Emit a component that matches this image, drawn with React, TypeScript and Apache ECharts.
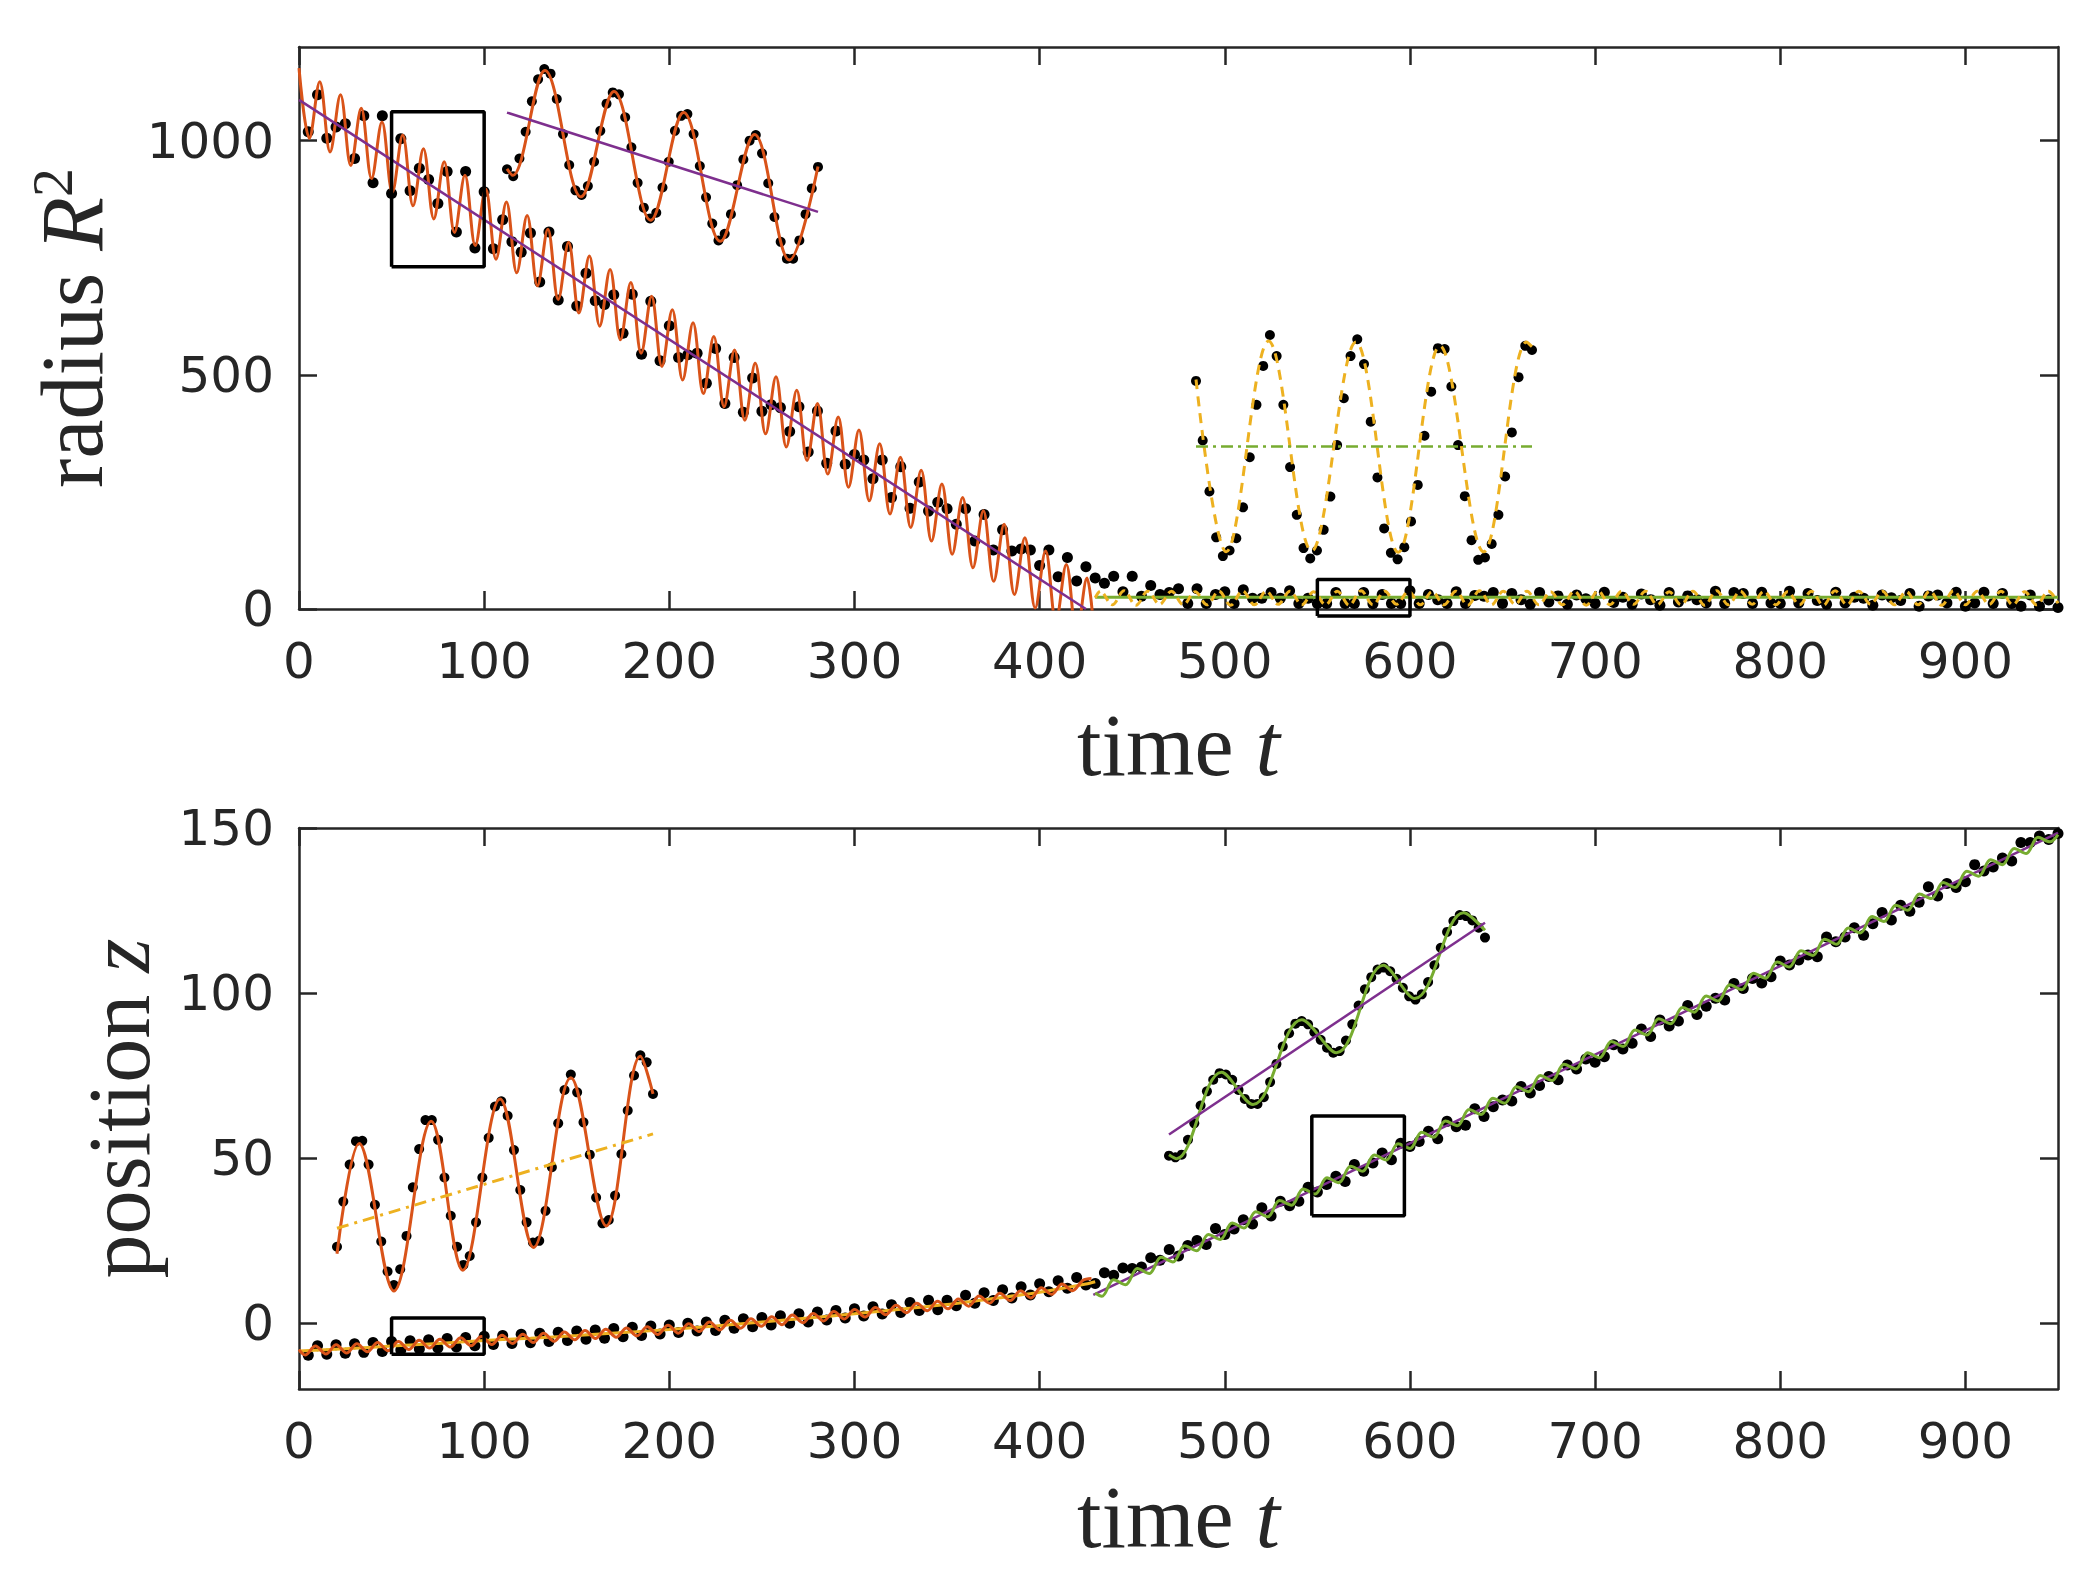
import React, { useEffect, useRef } from "react";
import * as echarts from "echarts";

const W = 2094;
const H = 1570;

// ---------- colours ----------
const ORANGE = "#D95319";
const PURPLE = "#7E2F8E";
const YELLOW = "#EDB120";
const GREEN = "#77AC30";
const AXIS = "#262626";

// ---------- ticks ----------
const timeTicks = [0, 100, 200, 300, 400, 500, 600, 700, 800, 900];
const radiusTicks = [0, 500, 1000];
const positionTicks = [0, 50, 100, 150];

// ---------- top panel: radius R^2 (samples every 5 time units, t = 5..950) ----------
const dotStep = 5;
const radiusDots = [
  1019, 1098, 1005, 1029, 1036, 962, 1053, 910, 1053, 887,
  1004, 893, 941, 917, 866, 934, 805, 934, 771, 891,
  769, 831, 784, 762, 803, 698, 805, 660, 774, 647,
  717, 658, 650, 671, 589, 672, 544, 657, 530, 605,
  537, 543, 546, 482, 556, 439, 537, 420, 493, 422,
  436, 430, 379, 432, 335, 423, 311, 380, 309, 330,
  318, 278, 318, 238, 304, 215, 271, 209, 228, 214,
  181, 214, 145, 202, 126, 169, 124, 128, 126, 93,
  126, 69, 110, 60, 90, 66, 55, 70, 37, 70,
  27, 50, 31, 35, 43, 12, 43, 12, 31, 37,
  12, 41, 23, 23, 35, 23, 39, 12, 23, 12,
  12, 35, 12, 12, 35, 11, 31, 12, 12, 39,
  12, 31, 20, 12, 37, 12, 29, 27, 35, 12,
  33, 20, 10, 35, 15, 28, 10, 30, 22, 12,
  36, 14, 25, 10, 32, 20, 8, 35, 15, 28,
  20, 13, 38, 12, 35, 33, 12, 36, 13, 12,
  38, 13, 33, 18, 10, 36, 13, 25, 23, 8,
  30, 24, 18, 33, 6, 28, 30, 13, 36, 6,
  13, 36, 12, 33, 12, 6, 30, 6, 19, 3,
];

// linear trend (purple) of the shrinking phase
const radiusTrend = [[0, 1087], [425, 0]];

// oscillating fit (orange), extrema
const radiusFitA = [
  [0, 1155], [5.6, 1005], [11.2, 1126], [16.8, 976], [22.4, 1098], [28, 947], [33.6, 1069], [39.2, 919],
  [44.8, 1040], [50.4, 890], [56, 1012], [61.6, 861], [67.2, 983], [72.8, 833], [78.4, 955], [84, 804],
  [89.6, 926], [95.2, 776], [100.8, 897], [106.4, 747], [112, 869], [117.6, 718], [123.2, 840], [128.8, 690],
  [134.4, 811], [140, 661], [145.6, 783], [151.2, 632], [156.8, 754], [162.4, 604], [168, 725], [173.6, 575],
  [179.2, 697], [184.8, 546], [190.4, 668], [196, 518], [201.6, 639], [207.2, 489], [212.8, 611], [218.4, 460],
  [224, 582], [229.6, 432], [235.2, 553], [240.8, 403], [246.4, 525], [252, 374], [257.6, 496], [263.2, 346],
  [268.8, 467], [274.4, 317], [280, 439], [285.6, 288], [291.2, 410], [296.8, 260], [302.4, 382], [308, 231],
  [313.6, 353], [319.2, 203], [324.8, 324], [330.4, 174], [336, 296], [341.6, 145], [347.2, 267], [352.8, 117],
  [358.4, 238], [364, 88], [369.6, 210], [375.2, 59], [380.8, 181], [386.4, 31], [392, 152], [397.6, 2],
  [403.2, 124], [408.8, -27], [414.4, 95], [420, -55], [425.6, 66], [428.5, -9],
];

// plateau phase: mean (green) and oscillating fit (yellow, dashed)
const radiusMeanB = [[430, 25], [950, 25]];
const radiusFitB = [
  [430, 24], [432.8, 38], [439.2, 9], [445.6, 39], [452, 8], [458.4, 38], [464.8, 10], [471.2, 38],
  [477.6, 9], [484, 37], [490.4, 9], [496.8, 38], [503.2, 8], [509.6, 39], [516, 9], [522.4, 38],
  [528.8, 10], [535.2, 38], [541.6, 9], [548, 37], [554.4, 9], [560.8, 38], [567.2, 8], [573.6, 39],
  [580, 9], [586.4, 38], [592.8, 10], [599.2, 38], [605.6, 9], [612, 37], [618.4, 9], [624.8, 38],
  [631.2, 8], [637.6, 39], [644, 9], [650.4, 38], [656.8, 10], [663.2, 38], [669.6, 9], [676, 37],
  [682.4, 9], [688.8, 38], [695.2, 8], [701.6, 39], [708, 9], [714.4, 38], [720.8, 10], [727.2, 38],
  [733.6, 9], [740, 37], [746.4, 9], [752.8, 38], [759.2, 8], [765.6, 39], [772, 9], [778.4, 38],
  [784.8, 10], [791.2, 38], [797.6, 9], [804, 37], [810.4, 9], [816.8, 38], [823.2, 8], [829.6, 39],
  [836, 9], [842.4, 38], [848.8, 10], [855.2, 38], [861.6, 9], [868, 37], [874.4, 9], [880.8, 38],
  [887.2, 8], [893.6, 39], [900, 9], [906.4, 38], [912.8, 10], [919.2, 38], [925.6, 9], [932, 37],
  [938.4, 9], [944.8, 38], [950, 12],
];

// zoom windows [t0, t1, v0, v1]
const radiusBoxA = [50, 100, 731, 1062];
const radiusBoxB = [550, 600, -15, 63];

// inset A (t = 50..100, every time unit)
const insetRadiusA = [
  939, 924, 962, 1019, 1084, 1131, 1153, 1143, 1089, 1014,
  948, 894, 884, 903, 955, 1021, 1079, 1103, 1099, 1050,
  986, 910, 857, 834, 846, 900, 955, 1021, 1053, 1057,
  1014, 946, 879, 823, 787, 801, 843, 905, 960, 1000,
  1012, 973, 909, 837, 784, 748, 748, 787, 843, 898, 944,
];
const insetRadiusAFit = [
  [50, 940], [50.9, 926], [56.1, 1150], [61.9, 880], [67.2, 1105], [73.1, 830], [78.4, 1060],
  [84.3, 785], [89.8, 1013], [95.4, 745], [100, 945],
];
const insetRadiusATrend = [[50, 1060], [100, 848]];

// inset B (t = 550..600)
const insetRadiusB = [
  487, 360, 251, 153, 113, 125, 151, 217, 324, 436,
  519, 585, 540, 436, 303, 201, 130, 108, 125, 169,
  240, 350, 450, 540, 576, 523, 400, 281, 172, 120,
  106, 132, 187, 265, 370, 464, 557, 555, 475, 350,
  241, 147, 105, 110, 139, 201, 283, 377, 495, 562, 553,
];
const insetRadiusBFit = [
  [550, 490], [554.5, 122], [560.8, 572], [567.2, 124], [573.8, 570], [580.1, 121],
  [586.3, 562], [592.8, 122], [599.2, 570], [600, 560],
];
const insetRadiusBMean = [[550, 347], [600, 347]];

// ---------- bottom panel: position z (t = 5..950) ----------
const positionDots = [
  -9.8, -6.9, -9.5, -6.6, -9.2, -6.3, -8.9, -5.9, -8.6, -5.6,
  -8.2, -5.4, -7.9, -5.1, -7.6, -4.7, -7.3, -4.4, -6.9, -4.0,
  -6.5, -3.8, -6.2, -3.4, -6.0, -3.1, -5.6, -2.8, -5.3, -2.4,
  -4.9, -2.1, -4.6, -1.7, -4.2, -1.3, -3.8, -0.9, -3.3, -0.6,
  -2.9, -0.1, -2.4, 0.3, -2.3, 0.8, -1.6, 1.3, -1.1, 1.7,
  -0.6, 2.2, -0.1, 2.8, 0.3, 3.3, 0.9, 3.8, 1.5, 4.3,
  2.1, 4.9, 2.7, 5.5, 3.2, 6.2, 3.8, 6.9, 4.0, 6.9,
  5.2, 8.4, 6.0, 9.2, 6.8, 10.1, 7.6, 11.0, 8.5, 11.9,
  9.5, 12.8, 10.5, 13.8, 11.5,
  12.0, 15.2, 14.5, 16.7, 16.5, 17.0, 19.8, 19.0, 22.3, 20.3,
  23.5, 25.0, 23.8, 28.6, 26.8, 28.5, 31.3, 30.0, 34.9, 32.4,
  36.9, 35.5, 36.9, 41.1, 39.7, 42.0, 44.5, 42.9, 48.0, 46.0,
  48.5, 51.5, 49.5, 54.5, 53.5, 55.0, 58.1, 55.8, 61.1, 59.5,
  59.9, 64.9, 62.6, 65.5, 67.6, 67.3, 71.7, 69.7, 72.0, 74.7,
  73.7, 78.2, 77.0, 80.0, 79.0, 80.7, 84.3, 83.0, 84.8, 89.1,
  86.8, 91.8, 90.0, 91.5, 96.2, 93.5, 96.0, 98.4, 97.9, 102.9,
  101.4, 104.4, 103.0, 104.9, 109.7, 108.5, 110.0, 111.5, 111.0, 117.0,
  115.5, 117.0, 119.8, 117.5, 121.0, 124.4, 122.1, 126.6, 124.8, 127.5,
  132.2, 129.4, 133.2, 132.0, 133.7, 138.9, 137.0, 138.2, 140.9, 140.0,
  145.6, 145.6, 147.6, 146.5, 148.3,
];

// slow phase: mean drift (yellow) and oscillating fit (orange)
const positionMeanA = [
  [0, -8.5], [25, -7.8], [50, -7.0], [75, -6.2], [100, -5.3], [125, -4.6], [150, -3.8], [175, -2.9],
  [200, -2.0], [225, -0.9], [250, 0.3], [275, 1.5], [300, 2.8], [325, 4.2], [350, 5.6], [375, 7.4],
  [400, 9.3], [425, 11.8], [430, 12.5],
];
const positionFitA = [
  [0, -8.1], [3.3, -9.7], [8.9, -7.0], [14.5, -9.4], [20.1, -6.6], [25.7, -9.1], [31.3, -6.3], [36.9, -8.7],
  [42.5, -5.9], [48.1, -8.4], [53.7, -5.6], [59.3, -8.0], [64.9, -5.2], [70.5, -7.6], [76.1, -4.9], [81.7, -7.3],
  [87.3, -4.5], [92.9, -6.9], [98.5, -4.1], [104.1, -6.5], [109.7, -3.7], [115.3, -6.2], [120.9, -3.4], [126.5, -5.9],
  [132.1, -3.1], [137.7, -5.5], [143.3, -2.7], [148.9, -5.1], [154.5, -2.3], [160.1, -4.7], [165.7, -1.9], [171.3, -4.3],
  [176.9, -1.5], [182.5, -3.9], [188.1, -1.1], [193.7, -3.5], [199.3, -0.7], [204.9, -3.1], [210.5, -0.2], [216.1, -2.6],
  [221.7, 0.3], [227.3, -2.1], [232.9, 0.8], [238.5, -1.6], [244.1, 1.3], [249.7, -1.0], [255.3, 1.9], [260.9, -0.5],
  [266.5, 2.4], [272.1, 0.1], [277.7, 2.9], [283.3, 0.6], [288.9, 3.5], [294.5, 1.2], [300.1, 4.1], [305.7, 1.8],
  [311.3, 4.7], [316.9, 2.5], [322.5, 5.4], [328.1, 3.1], [333.7, 6.0], [339.3, 3.7], [344.9, 6.6], [350.5, 4.3],
  [356.1, 7.3], [361.7, 5.1], [367.3, 8.2], [372.9, 6.0], [378.5, 9.0], [384.1, 6.8], [389.7, 9.8], [395.3, 7.6],
  [400.9, 10.7], [406.5, 8.7], [412.1, 11.8], [417.7, 9.8], [423.3, 12.9], [428, 13.5],
];

// fast phase: linear trend (purple) and oscillating fit (green)
const positionTrendB = [[429, 8.5], [950, 148.5]];
const positionFitB = [
  [430, 9.1], [433.6, 8.1], [440, 13.1], [446.4, 11.6], [452.8, 16.5], [459.2, 15.0], [465.6, 19.9], [472, 18.5],
  [478.4, 23.4], [484.8, 21.9], [491.2, 26.8], [497.6, 25.3], [504, 30.3], [510.4, 28.8], [516.8, 33.7], [523.2, 32.2],
  [529.6, 37.1], [536, 35.7], [542.4, 40.6], [548.8, 39.1], [555.2, 44.0], [561.6, 42.5], [568, 47.5], [574.4, 46.0],
  [580.8, 50.9], [587.2, 49.4], [593.6, 54.3], [600, 52.9], [606.4, 57.8], [612.8, 56.3], [619.2, 61.2], [625.6, 59.8],
  [632, 64.7], [638.4, 63.2], [644.8, 68.1], [651.2, 66.6], [657.6, 71.6], [664, 70.1], [670.4, 75.0], [676.8, 73.5],
  [683.2, 78.4], [689.6, 77.0], [696, 81.9], [702.4, 80.4], [708.8, 85.3], [715.2, 83.8], [721.6, 88.8], [728, 87.3],
  [734.4, 92.2], [740.8, 90.7], [747.2, 95.6], [753.6, 94.2], [760, 99.1], [766.4, 97.6], [772.8, 102.5], [779.2, 101.0],
  [785.6, 106.0], [792, 104.5], [798.4, 109.4], [804.8, 107.9], [811.2, 112.8], [817.6, 111.4], [824, 116.3], [830.4, 114.8],
  [836.8, 119.7], [843.2, 118.2], [849.6, 123.2], [856, 121.7], [862.4, 126.6], [868.8, 125.1], [875.2, 130.0], [881.6, 128.6],
  [888, 133.5], [894.4, 132.0], [900.8, 136.9], [907.2, 135.4], [913.6, 140.4], [920, 138.9], [926.4, 143.8], [932.8, 142.3],
  [939.2, 147.2], [945.6, 145.8], [950, 148.0],
];

const positionBoxA = [50, 100, -9.5, 1.5];
const positionBoxB = [547, 597, 32.5, 62.7];

// inset A (t = 50..100)
const insetPositionA = [
  23.1, 36.8, 48.0, 55.1, 55.2, 48.0, 35.8, 24.7, 15.6, 11.5,
  16.3, 26.4, 41.1, 52.7, 61.5, 61.5, 55.5, 44.1, 32.5, 23.1,
  17.6, 20.3, 30.5, 44.1, 56.1, 65.6, 67.2, 62.8, 52.4, 40.3,
  30.5, 24.4, 24.9, 34.0, 47.2, 60.5, 70.6, 75.3, 69.9, 60.8,
  51.0, 38.0, 30.2, 31.2, 38.6, 51.2, 64.4, 75.0, 81.1, 79.0, 69.4,
];
const insetPositionAFit = [
  [50, 21.0], [53.5, 54.4], [59.0, 9.7], [64.9, 61.1], [69.9, 16.0], [75.8, 67.9],
  [81.1, 22.9], [87.0, 74.3], [92.6, 29.4], [98.0, 80.8], [100, 69.4],
];
const insetPositionAMean = [[50, 28.7], [100, 57.3]];

// inset B (t = 547..597)
const insetPositionB = [
  50.7, 50.2, 51.0, 55.5, 60.5, 65.9, 70.2, 73.7, 75.7, 75.3,
  73.7, 70.6, 67.9, 66.4, 66.4, 68.4, 73.0, 78.5, 83.8, 87.8,
  90.7, 91.5, 90.5, 88.1, 85.8, 83.4, 81.9, 82.4, 85.6, 90.5,
  96.2, 101.1, 104.8, 107.1, 107.7, 106.6, 104.3, 101.6, 99.0, 98.0,
  99.6, 103.3, 108.4, 113.7, 118.5, 121.8, 123.6, 123.3, 122.0, 119.8, 116.8,
];
const insetPositionBFit = [
  [547, 51.0], [548.2, 49.8], [555.3, 76.0], [560.3, 66.2], [568.0, 91.9], [573.5, 81.9],
  [580.9, 108.4], [585.9, 98.3], [593.6, 124.3], [597, 119.0],
];
const insetPositionBTrend = [[547, 57.1], [597, 121.3]];

// ---------- layout ----------
const PLOT_LEFT = 299;
const PLOT_W = 1759;
const TOP_Y = 47;
const TOP_H = 562;
const BOT_Y = 828;
const BOT_H = 561;

const serif = "Liberation Serif";
const sans = "DejaVu Sans";

function boxPath(b: number[]) {
  const [t0, t1, v0, v1] = b;
  return [[t0, v0], [t1, v0], [t1, v1], [t0, v1], [t0, v0]];
}

function dotsFrom(values: number[], t0: number, dt: number) {
  return values.map((v, i) => [t0 + i * dt, v]);
}

function buildOption() {
  const axisLine = { show: true, onZero: false, lineStyle: { color: AXIS, width: 2.5 } };
  const tick = (vals: number[]) => ({
    show: true,
    inside: true,
    length: 18,
    lineStyle: { color: AXIS, width: 2.5 },
    customValues: vals,
  });
  const label = (vals: number[], margin: number) => ({
    show: true,
    fontFamily: sans,
    fontSize: 50,
    color: AXIS,
    margin,
    customValues: vals,
    formatter: (v: number) => String(v),
  });
  const nameRich = {
    a: { fontFamily: serif, fontSize: 88, color: AXIS },
    b: { fontFamily: serif, fontSize: 88, color: AXIS, fontStyle: "italic" },
    s: { fontFamily: serif, fontSize: 58, color: AXIS, padding: [0, 0, 40, 0] },
  };

  const timeAxis = (grid: number, gap: number) => ({
    type: "value",
    gridIndex: grid,
    min: 0,
    max: 950,
    position: "bottom",
    axisLine,
    axisTick: tick(timeTicks),
    axisLabel: label(timeTicks, 27),
    splitLine: { show: false },
    name: "{a|time }{b|t}",
    nameLocation: "middle",
    nameGap: gap,
    nameTextStyle: { rich: nameRich },
  });
  const timeAxisTop = (grid: number) => ({
    type: "value",
    gridIndex: grid,
    min: 0,
    max: 950,
    position: "top",
    axisLine,
    axisTick: tick(timeTicks),
    axisLabel: { show: false },
    splitLine: { show: false },
  });
  const hiddenX = (grid: number, min: number, max: number) => ({
    type: "value", gridIndex: grid, min, max, show: false,
  });
  const hiddenY = (grid: number, min: number, max: number) => ({
    type: "value", gridIndex: grid, min, max, show: false,
  });

  const xAxis = [
    timeAxis(0, 92),
    timeAxisTop(0),
    timeAxis(1, 84),
    timeAxisTop(1),
    hiddenX(2, 50, 100),
    hiddenX(3, 550, 600),
    hiddenX(4, 50, 100),
    hiddenX(5, 547, 597),
  ];
  const yAxis = [
    {
      type: "value", gridIndex: 0, min: 0, max: 1200, position: "left",
      axisLine, axisTick: tick(radiusTicks), axisLabel: label(radiusTicks, 25),
      splitLine: { show: false },
      name: "{a|radius }{b|R}{s|2}", nameLocation: "middle", nameRotate: 90, nameGap: 178,
      nameTextStyle: { rich: nameRich },
    },
    {
      type: "value", gridIndex: 0, min: 0, max: 1200, position: "right",
      axisLine, axisTick: tick(radiusTicks), axisLabel: { show: false }, splitLine: { show: false },
    },
    {
      type: "value", gridIndex: 1, min: -20, max: 150, position: "left",
      axisLine, axisTick: tick(positionTicks), axisLabel: label(positionTicks, 25),
      splitLine: { show: false },
      name: "{a|position }{b|z}", nameLocation: "middle", nameRotate: 90, nameGap: 136,
      nameTextStyle: { rich: nameRich },
    },
    {
      type: "value", gridIndex: 1, min: -20, max: 150, position: "right",
      axisLine, axisTick: tick(positionTicks), axisLabel: { show: false }, splitLine: { show: false },
    },
    hiddenY(2, 0, 1200),
    hiddenY(3, 0, 1200),
    hiddenY(4, -20, 150),
    hiddenY(5, -20, 150),
  ];

  const grid = [
    { left: PLOT_LEFT, top: TOP_Y, width: PLOT_W, height: TOP_H },
    { left: PLOT_LEFT, top: BOT_Y, width: PLOT_W, height: BOT_H },
    { left: 507, top: TOP_Y, width: 311, height: TOP_H },
    { left: 1196, top: TOP_Y, width: 336, height: TOP_H },
    { left: 337, top: BOT_Y, width: 316, height: BOT_H },
    { left: 1169, top: BOT_Y, width: 316, height: BOT_H },
  ];

  const dots = (data: number[][], xi: number, yi: number, size: number) => ({
    type: "scatter", data, xAxisIndex: xi, yAxisIndex: yi,
    symbol: "circle", symbolSize: size, itemStyle: { color: "#000", opacity: 1 },
    clip: false, silent: true, z: 2,
  });
  const curve = (data: number[][], xi: number, yi: number, color: string, width: number, extra: any = {}) => ({
    type: "line", data, xAxisIndex: xi, yAxisIndex: yi, symbol: "none", showSymbol: false, silent: true,
    lineStyle: { color, width, ...(extra.lineStyle || {}) }, z: 3,
    ...(extra.smooth !== undefined ? { smooth: extra.smooth } : {}),
    ...(extra.clip !== undefined ? { clip: extra.clip } : {}),
  });
  const box = (b: number[], xi: number, yi: number) => ({
    type: "line", data: boxPath(b), xAxisIndex: xi, yAxisIndex: yi, symbol: "none", showSymbol: false,
    silent: true, clip: false, lineStyle: { color: "#000", width: 3.5 }, z: 6,
  });

  const SM = 0.36;

  const series: any[] = [
    // top main
    dots(dotsFrom(radiusDots, dotStep, dotStep), 0, 0, 11),
    curve(radiusFitA, 0, 0, ORANGE, 3, { smooth: SM }),
    curve(radiusTrend, 0, 0, PURPLE, 2.5),
    curve(radiusMeanB, 0, 0, GREEN, 3),
    curve(radiusFitB, 0, 0, YELLOW, 3, { smooth: SM, lineStyle: { type: [8, 5] } }),
    box(radiusBoxA, 0, 0),
    box(radiusBoxB, 0, 0),
    // top inset A
    dots(dotsFrom(insetRadiusA, 50, 1), 4, 4, 10),
    curve(insetRadiusAFit, 4, 4, ORANGE, 3, { smooth: SM }),
    curve(insetRadiusATrend, 4, 4, PURPLE, 2.5),
    // top inset B
    dots(dotsFrom(insetRadiusB, 550, 1), 5, 5, 10),
    curve(insetRadiusBFit, 5, 5, YELLOW, 3, { smooth: SM, lineStyle: { type: [10, 7] } }),
    curve(insetRadiusBMean, 5, 5, GREEN, 2.5, { lineStyle: { type: [12, 5, 3, 5] } }),
    // bottom main
    dots(dotsFrom(positionDots, dotStep, dotStep), 2, 2, 11),
    curve(positionMeanA, 2, 2, YELLOW, 3, { smooth: 0.3 }),
    curve(positionFitA, 2, 2, ORANGE, 3, { smooth: SM }),
    curve(positionTrendB, 2, 2, PURPLE, 2.5),
    curve(positionFitB, 2, 2, GREEN, 3, { smooth: SM }),
    box(positionBoxA, 2, 2),
    box(positionBoxB, 2, 2),
    // bottom inset A
    dots(dotsFrom(insetPositionA, 50, 1), 6, 6, 10),
    curve(insetPositionAFit, 6, 6, ORANGE, 3, { smooth: SM }),
    curve(insetPositionAMean, 6, 6, YELLOW, 3, { lineStyle: { type: [12, 6, 3, 6] } }),
    // bottom inset B
    dots(dotsFrom(insetPositionB, 547, 1), 7, 7, 10),
    curve(insetPositionBFit, 7, 7, GREEN, 3, { smooth: SM }),
    curve(insetPositionBTrend, 7, 7, PURPLE, 2.5),
  ];

  return {
    animation: false,
    backgroundColor: "#ffffff",
    grid,
    xAxis,
    yAxis,
    series,
  };
}

export default function App() {
  const ref = useRef<HTMLDivElement>(null);
  useEffect(() => {
    document.body.style.margin = "0";
    const el = ref.current;
    if (!el) return;
    const chart = echarts.init(el, null, { renderer: "svg", width: W, height: H });
    chart.setOption(buildOption() as any);
    return () => {
      chart.dispose();
    };
  }, []);
  return <div ref={ref} style={{ width: W, height: H, background: "#fff" }} />;
}
